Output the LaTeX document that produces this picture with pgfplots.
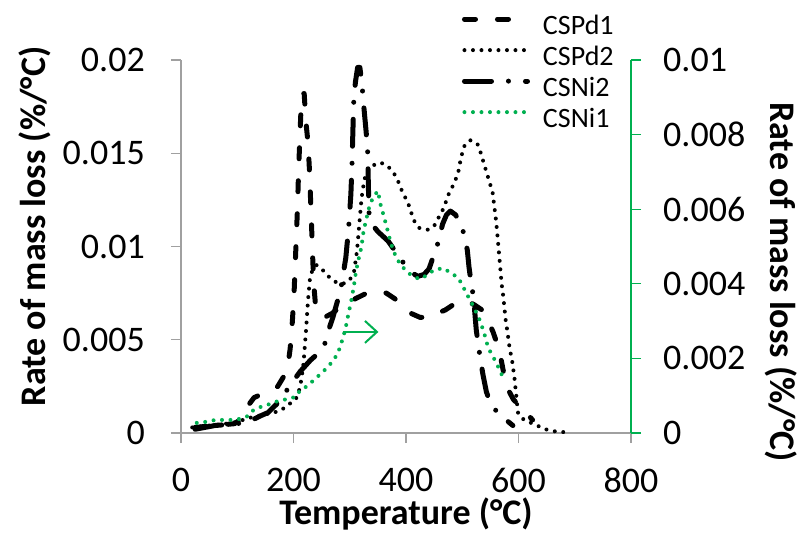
\documentclass[border=0pt]{standalone}
\usepackage{pgfplots}
\pgfplotsset{compat=1.18}
\usepackage{fontspec}
\setmainfont{Carlito}
\usetikzlibrary{arrows.meta}
\definecolor{axgray}{RGB}{160,160,160}
\definecolor{exgreen}{RGB}{0,176,80}
\tikzset{
  pdone/.style={black, line width=5pt, line cap=round, line join=round, dash pattern=on 11pt off 22pt},
  pdtwo/.style={black, line width=4pt, line cap=round, line join=round, dash pattern=on 0pt off 8.5pt},
  nitwo/.style={black, line width=5pt, line cap=round, line join=round, dash pattern=on 27pt off 17pt on 0pt off 17pt},
  nione/.style={exgreen, line width=4pt, line cap=round, line join=round, dash pattern=on 0pt off 8.5pt},
}
\begin{document}
\begin{tikzpicture}
\path[use as bounding box] (-181pt,-100pt) rectangle (618pt,433pt);
\begin{axis}[
  at={(0pt,0pt)}, anchor=south west,
  scale only axis, width=450pt, height=373pt,
  xmin=0, xmax=800, ymin=0, ymax=0.02,
  scaled y ticks=false, scaled x ticks=false,
  axis x line*=bottom, axis y line*=left,
  axis line style={axgray, line width=1.2pt, -},
  xtick={0,200,400,600,800},
  ytick={0,0.005,0.01,0.015,0.02},
  yticklabels={0,0.005,0.01,0.015,0.02},
  major tick length=10pt, tick align=outside,
  tick style={axgray, line width=1.2pt},
  /pgf/number format/assume math mode=true,
  ticklabel style={font=\fontsize{36}{40}\selectfont, inner sep=0pt},
  yticklabel style={anchor=east, xshift=-26pt},
  xticklabel style={anchor=north, yshift=-25pt},
  xlabel={Temperature (°C)},
  xlabel style={at={(axis description cs:0.5,-0.245)}, anchor=base, font=\bfseries\fontsize{36}{40}\selectfont},
  ylabel={Rate of mass loss (\%/°C)},
  ylabel style={at={(axis description cs:-0.302,0.554)}, anchor=base, rotate=0, font=\bfseries\fontsize{36}{40}\selectfont},
  legend style={at={(axis description cs:0.6244,1.127)}, anchor=north west, draw=none, fill=none,
    inner sep=0pt, outer sep=0pt, row sep=0pt,
    font=\fontsize{28}{30}\selectfont, nodes={inner sep=0pt, text height=22pt, text depth=9pt}},
  legend cell align=left,
  legend image code/.code={\draw[#1] (0pt,9pt) -- (63pt,9pt); \path (76pt,9pt);},
]
\addplot[pdone] coordinates {
(25,0.0003) (60,0.0004) (95,0.0005) (110,0.0008) (120,0.0015) (130,0.0019) (145,0.0021) (160,0.0023) (172,0.0025) (182,0.0030) (189,0.0034) (194,0.0045) (198,0.0060) (201,0.0075) (203,0.0090) (205,0.0105) (207,0.0120) (208.5,0.0135) (210,0.0148) (211.5,0.0160) (213,0.0171) (215,0.0178) (217,0.0182) (219,0.0182) (221,0.0172) (223,0.0164) (226,0.0155) (228,0.0143) (230,0.0128) (232,0.0112) (234,0.0095) (236,0.0080) (239,0.0069) (244,0.0064) (255,0.0062) (268,0.0064) (285,0.0068) (310,0.0072) (330,0.0075) (348,0.0076) (365,0.0075) (380,0.0072) (395,0.0068) (410,0.0064) (425,0.0062) (440,0.0062) (455,0.0064) (470,0.0066) (490,0.0070) (505,0.0071) (520,0.0069) (535,0.0066) (545,0.0061) (555,0.0054) (564,0.0046) (570,0.0038) (575,0.0030) (582,0.0023) (591,0.0018) (600,0.0015) (610,0.0012) (625,0.0007)
};
\addlegendentry{CSPd1}
\addplot[pdtwo] coordinates {
(20,0.0003) (50,0.0004) (80,0.0005) (100,0.0006) (120,0.0008) (135,0.0009) (150,0.0010) (165,0.0011) (177,0.0012) (190,0.0015) (204,0.0018) (210,0.0023) (213,0.0027) (216,0.0033) (218,0.0038) (220,0.0046) (222,0.0054) (224,0.0063) (226,0.0072) (229,0.0082) (234,0.0088) (241,0.0090) (250,0.0088) (262,0.0084) (275,0.0081) (288,0.0080) (300,0.0082) (308,0.0087) (313,0.0098) (317,0.0112) (321,0.0126) (326,0.0136) (334,0.0142) (345,0.0144) (355,0.0145) (368,0.0143) (379,0.0139) (386,0.0135) (391,0.0131) (404,0.0123) (414,0.0114) (423,0.0110) (439,0.0109) (450,0.0111) (457,0.0115) (466,0.0120) (471,0.0124) (477,0.0129) (486,0.0134) (493,0.0140) (498,0.0148) (504,0.0154) (514,0.0157) (527,0.0155) (532,0.0151) (537,0.0146) (541,0.0142) (546,0.0137) (550,0.0133) (554,0.0129) (556,0.0124) (558,0.0119) (560,0.0114) (562,0.0108) (564,0.0101) (566,0.0094) (568,0.0087) (570,0.0080) (573,0.0073) (575,0.0067) (577,0.0061) (580,0.0055) (584,0.0046) (589,0.0038) (593,0.0029) (596,0.0020) (599,0.0011) (605,0.0008) (618,0.0006) (633,0.0004) (648,0.0002) (662,0.0001) (677,0.00005) (690,0.00005)
};
\addlegendentry{CSPd2}
\addplot[nitwo] coordinates {
(25,0.0002) (60,0.0004) (100,0.0005) (120,0.0006) (140,0.0009) (155,0.0011) (175,0.0017) (195,0.0026) (212,0.0033) (230,0.0039) (245,0.0043) (254,0.0046) (261,0.0054) (270,0.0062) (284,0.0077) (293,0.0094) (298,0.0110) (302,0.0128) (304,0.0144) (305.5,0.0161) (307,0.0177) (310,0.0188) (314,0.0196) (318,0.0196) (322,0.0186) (325,0.0175) (329,0.0162) (332,0.0150) (333,0.0134) (334.5,0.0116) (342,0.0111) (350,0.0108) (368,0.0103) (382,0.0097) (396,0.0091) (410,0.0086) (421,0.0084) (432,0.0085) (441,0.0088) (450,0.0096) (457,0.0102) (465,0.0112) (472,0.0117) (479,0.0119) (488,0.0117) (497,0.0112) (504,0.0106) (509,0.0098) (512,0.0089) (516,0.0080) (520,0.0073) (525,0.0055) (532,0.0040) (537,0.0031) (543,0.0022) (550,0.0016) (560,0.0012) (570,0.0009) (590,0.0004)
};
\addlegendentry{CSNi2}
\addlegendimage{nione}
\addlegendentry{CSNi1}
\draw[exgreen, line width=2pt, -{Straight Barb[length=12pt, width=22pt]}] (axis cs:288,0.00542) -- (axis cs:351,0.00542);
\node[anchor=base west, font=\bfseries\fontsize{36}{40}\selectfont] at (axis description cs:-0.38,1.040) {a};
\end{axis}
\begin{axis}[
  at={(0pt,0pt)}, anchor=south west,
  scale only axis, width=450pt, height=373pt,
  xmin=0, xmax=800, ymin=0, ymax=0.01,
  scaled y ticks=false,
  axis x line=none, axis y line*=right,
  axis line style={exgreen, line width=1.2pt, -},
  ytick={0,0.002,0.004,0.006,0.008,0.01},
  yticklabels={0,0.002,0.004,0.006,0.008,0.01},
  major tick length=10pt, tick align=outside,
  tick style={exgreen, line width=1.2pt},
  ticklabel style={font=\fontsize{36}{40}\selectfont, inner sep=0pt},
  yticklabel style={anchor=west, xshift=22pt},
  ylabel={Rate of mass loss (\%/°C)},
  ylabel style={at={(axis description cs:1.309,0.405)}, anchor=base, rotate=180, font=\bfseries\fontsize{36}{40}\selectfont},
]
\addplot[nione] coordinates {
(28,0.00027) (45,0.0003) (61,0.00035) (91,0.00035) (105,0.00038) (120,0.00046) (129,0.00062) (145,0.00072) (159,0.00078) (173,0.00086) (189,0.00091) (204,0.00097) (212,0.00115) (225,0.00126) (236,0.00142) (248,0.00158) (259,0.00174) (270,0.00193) (279,0.00214) (288,0.00255) (293,0.00284) (298,0.00322) (302,0.00349) (307,0.00391) (311,0.00432) (315,0.00462) (318,0.0048) (321,0.00501) (325,0.00547) (329,0.00568) (332,0.00592) (337,0.00617) (343,0.00635) (350,0.00649) (355,0.00611) (361,0.00579) (368,0.00539) (373,0.00509) (382,0.00472) (391,0.0045) (404,0.00429) (418,0.00416) (427,0.00413) (439,0.00426) (450,0.00437) (466,0.00442) (480,0.00429) (493,0.00416) (502,0.00391) (507,0.00375) (516,0.00351) (521,0.00335) (529,0.00311) (534,0.0029) (539,0.00268) (543,0.00244) (548,0.00223) (555,0.00204) (564,0.00177) (573,0.00147)
};
\end{axis}
\end{tikzpicture}
\end{document}
